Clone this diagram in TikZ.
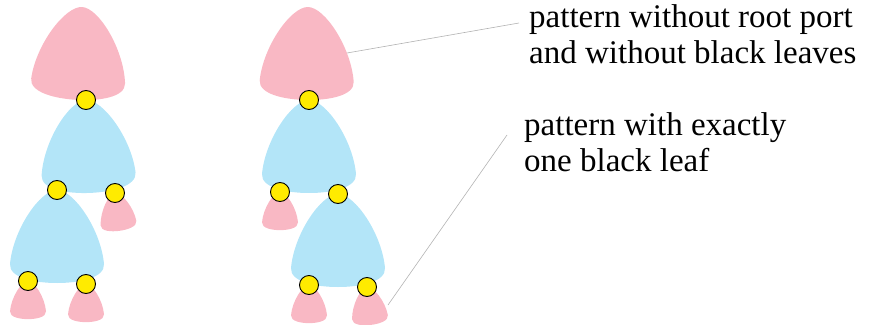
\documentclass[tikz,border=0pt]{standalone}
\usepackage{fontspec}
\setmainfont{Liberation Serif}
\usepackage{xcolor}
\definecolor{petal}{HTML}{F9B8C4}
\definecolor{sky}{HTML}{B3E5F8}
\definecolor{dot}{HTML}{FFEB00}

\begin{document}
\begin{tikzpicture}[x=1pt,y=-1pt,
port/.style={shape=circle,draw=black,fill=dot,line width=0.9pt,minimum size=19pt,inner sep=0pt},
lead/.style={draw=black!30,line width=0.6pt},
note/.style={anchor=north west,align=left,inner sep=0pt,font=\fontsize{33}{36}\selectfont},
twig/.style={xscale=0.383,yscale=0.41},
blob/.pic={\path[pic actions](0,0) .. controls (-17,0) and (-44,40) .. (-47,74)
  .. controls (-48,88) and (-22,93) .. (0,93) .. controls (22,93) and (48,88) .. (47,74)
  .. controls (44,40) and (17,0) .. (0,0) -- cycle;}]
\useasboundingbox (0,0) rectangle (878,324);
% left tree
\path (82,7) pic[fill=petal,rotate=-3]{blob}
(86,100) pic[fill=sky,rotate=2]{blob}
(57,190) pic[fill=sky]{blob}
(115,193) pic[fill=petal,twig,rotate=7]{blob}
(28,281) pic[fill=petal,twig]{blob}
(86,284) pic[fill=petal,twig]{blob};
\node[port] (a1) at (86,100) {};
\node[port] (a2) at (57,190) {};
\node[port] (a3) at (115,193) {};
\node[port] (a4) at (28,281) {};
\node[port] (a5) at (86,284) {};
% middle tree
\path (308,7) pic[fill=petal,rotate=-1]{blob}
(309,100) pic[fill=sky]{blob}
(338,194) pic[fill=sky]{blob}
(280,192) pic[fill=petal,twig]{blob}
(309,285) pic[fill=petal,twig]{blob}
(367,287) pic[fill=petal,twig,rotate=6]{blob};
\node[port] (b1) at (309,100) {};
\node[port] (b2) at (280,192) {};
\node[port] (b3) at (338,194) {};
\node[port] (b4) at (309,285) {};
\node[port] (b5) at (367,287) {};
% labels
\node[note] (n1) at (529,4.5) {pattern without root port\\and without black leaves};
\node[note] (n2) at (524,112.5) {pattern with exactly\\one black leaf};
\coordinate (t1) at (347,53);
\coordinate (e1) at ([shift={(-10,18.5)}]n1.north west);
\coordinate (t2) at (388,305);
\coordinate (e2) at ([shift={(-17,22.5)}]n2.north west);
\draw[lead] (t1) -- (e1);
\draw[lead] (t2) -- (e2);
\end{tikzpicture}
\end{document}
